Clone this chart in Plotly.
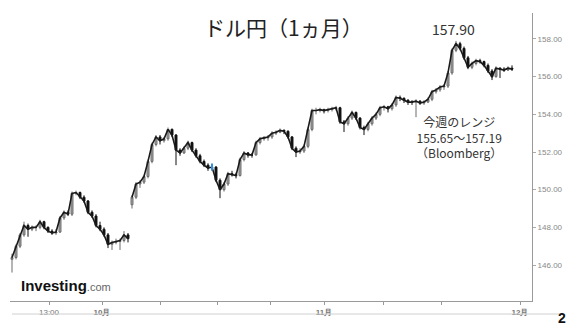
import plotly.graph_objects as go

# USD/JPY candles (1 month), one value per candle
opens = [146.3, 146.4, 147.0, 147.6, 148.1, 147.9, 148.0, 148.0, 148.3, 148.0,
         147.8, 147.7, 147.75, 148.5, 148.8, 148.7, 149.8, 149.85, 149.6, 149.4,
         148.8, 148.6, 148.1, 147.9, 147.6, 147.1, 147.2, 147.25, 147.3, 147.6,
         149.2, 149.6, 150.3, 150.4, 150.7, 151.5, 152.4, 152.8, 152.6, 152.7,
         153.2, 152.9, 152.1, 151.95, 152.2, 152.5, 152.1, 151.8, 151.5, 151.3,
         151.15, 151.2, 150.5, 150.0, 150.3, 150.85, 150.8, 150.75, 151.6, 151.95,
         151.85, 151.85, 152.5, 152.7, 152.75, 152.8, 153.0, 153.05, 153.15, 153.1,
         152.8, 152.2, 152.0, 152.05, 152.3, 153.2, 154.2, 154.2, 154.25, 154.2,
         154.25, 154.3, 154.35, 153.6, 153.5, 153.8, 154.1, 153.8, 153.3, 153.2,
         153.5, 153.8, 154.0, 154.35, 154.4, 154.3, 154.5, 154.9, 154.85, 154.75,
         154.65, 154.65, 154.7, 154.6, 154.65, 154.8, 155.2, 155.3, 155.45, 155.5,
         156.2, 157.4, 157.75, 157.5, 157.0, 156.5, 156.7, 156.85, 156.8, 156.6,
         156.3, 156.0, 156.45, 156.4, 156.35, 156.45]
highs = [146.6, 147.1, 147.7, 148.3, 148.2, 148.1, 148.1, 148.4, 148.35, 148.05,
         147.9, 147.9, 148.6, 148.9, 148.9, 149.9, 149.95, 149.9, 149.7, 149.45,
         148.9, 148.7, 148.3, 148.0, 147.7, 147.3, 147.4, 147.4, 147.8, 147.7,
         149.7, 150.4, 150.5, 150.8, 151.6, 152.5, 152.9, 152.9, 152.8, 153.3,
         153.25, 152.95, 152.2, 152.3, 152.6, 152.55, 152.2, 151.9, 151.6, 151.4,
         151.35, 151.25, 150.6, 150.4, 150.95, 151.0, 150.9, 151.7, 152.05, 152.0,
         151.95, 152.6, 152.8, 152.85, 152.9, 153.1, 153.15, 153.25, 153.2, 153.15,
         152.85, 152.3, 152.2, 152.4, 153.3, 154.3, 154.35, 154.35, 154.3, 154.35,
         154.4, 154.45, 154.4, 153.7, 153.9, 154.2, 154.15, 153.85, 153.4, 153.6,
         153.9, 154.1, 154.45, 154.5, 154.45, 154.6, 155.0, 155.0, 154.9, 154.8,
         154.75, 154.8, 154.75, 154.75, 154.9, 155.3, 155.4, 155.55, 155.6, 156.3,
         157.5, 157.9, 157.85, 157.6, 157.1, 156.8, 156.95, 156.95, 156.85, 156.7,
         156.4, 156.55, 156.5, 156.5, 156.55, 156.6]
lows = [145.6, 146.3, 146.9, 147.5, 147.5, 147.8, 147.8, 147.9, 147.9, 147.7,
        147.6, 147.6, 147.7, 148.4, 148.6, 148.6, 149.7, 149.5, 149.3, 148.7,
        148.5, 148.0, 147.8, 147.5, 146.9, 146.8, 147.1, 146.8, 147.2, 147.2,
        149.0, 149.5, 150.1, 150.3, 150.6, 151.4, 152.3, 152.4, 152.5, 152.6,
        152.8, 151.3, 151.8, 151.9, 152.1, 152.0, 151.7, 151.4, 151.2, 151.0,
        151.0, 150.4, 149.55, 149.9, 150.2, 150.7, 150.6, 150.7, 151.5, 151.7,
        151.7, 151.8, 152.4, 152.6, 152.6, 152.7, 152.9, 153.0, 152.95, 152.7,
        152.1, 151.73, 151.9, 151.95, 152.2, 153.1, 154.0, 154.1, 154.05, 154.1,
        154.15, 154.2, 153.5, 153.06, 153.4, 153.7, 153.7, 153.2, 152.9, 153.1,
        153.4, 153.7, 153.9, 154.2, 154.1, 154.2, 154.4, 154.7, 154.6, 154.5,
        154.5, 153.85, 154.5, 154.5, 154.6, 154.7, 155.1, 155.2, 155.3, 155.4,
        156.1, 157.3, 157.4, 156.9, 156.4, 156.4, 156.6, 156.7, 156.5, 156.2,
        155.82, 155.95, 155.93, 156.25, 156.3, 156.3]
closes = [146.4, 147.0, 147.6, 148.1, 147.9, 148.0, 148.0, 148.3, 148.0, 147.8,
          147.7, 147.75, 148.5, 148.8, 148.7, 149.8, 149.85, 149.6, 149.4, 148.8,
          148.6, 148.1, 147.9, 147.6, 147.1, 147.2, 147.25, 147.3, 147.6, 147.4,
          149.6, 150.3, 150.4, 150.7, 151.5, 152.4, 152.8, 152.6, 152.7, 153.2,
          152.9, 152.1, 151.95, 152.2, 152.5, 152.1, 151.8, 151.5, 151.3, 151.15,
          151.2, 150.5, 150.0, 150.3, 150.85, 150.8, 150.75, 151.6, 151.95, 151.85,
          151.85, 152.5, 152.7, 152.75, 152.8, 153.0, 153.05, 153.15, 153.1, 152.8,
          152.2, 152.0, 152.05, 152.3, 153.2, 154.2, 154.2, 154.25, 154.2, 154.25,
          154.3, 154.35, 153.6, 153.5, 153.8, 154.1, 153.8, 153.3, 153.2, 153.5,
          153.8, 154.0, 154.35, 154.4, 154.3, 154.5, 154.9, 154.85, 154.75, 154.65,
          154.65, 154.7, 154.6, 154.65, 154.8, 155.2, 155.3, 155.45, 155.5, 156.2,
          157.4, 157.75, 157.5, 157.0, 156.5, 156.7, 156.85, 156.8, 156.6, 156.3,
          156.0, 156.45, 156.4, 156.35, 156.45, 156.4]

gap_after = 29  # weekend gap: last candle before the price gap

x_tick_pos = [9.25, 22.5, 37, 51.25, 64.5, 78, 92.75, 107.25, 127]
x_tick_text = ["13:00", "<b>10月</b>", "", "", "", "<b>11月</b>", "", "", "<b>12月</b>"]
y_ticks = [146, 148, 150, 152, 154, 156, 158]

title_text = "ドル円（1ヵ月）"
high_label = "157.90"
range_lines = ["今週のレンジ", "155.65～157.19", "（Bloomberg）"]

xs = list(range(len(closes)))

fig = go.Figure()
# thin dark path through the closes so the dense candles read as one line
for seg in (slice(0, gap_after + 1), slice(gap_after + 1, None)):
    fig.add_trace(go.Scatter(x=xs[seg], y=closes[seg], mode="lines",
                             line=dict(color="#1a1a1a", width=1.6), hoverinfo="skip"))
fig.add_trace(go.Candlestick(
    x=xs, open=opens, high=highs, low=lows, close=closes,
    increasing=dict(line=dict(color="#6a6a6a", width=1), fillcolor="#a8a8a8"),
    decreasing=dict(line=dict(color="#111111", width=1), fillcolor="#111111"),
    whiskerwidth=0, hoverinfo="skip",
))
# small blue highlight candle
fig.add_trace(go.Scatter(x=[xs[50]], y=[closes[50]], mode="markers",
                         marker=dict(symbol="line-ns", size=5, color="#2f8fe0",
                                     line=dict(width=2, color="#2f8fe0")),
                         hoverinfo="skip"))

W, H = 575, 328
L, R, T, B = 10, 532, 13, 301
def px(xp):
    return (xp - L) / (R - L)
def py(yp):
    return (B - yp) / (B - T)

fig.update_layout(
    width=W, height=H,
    margin=dict(l=L, r=W - R, t=T, b=H - B),
    paper_bgcolor="white", plot_bgcolor="white",
    showlegend=False,
    font=dict(family="Noto Sans CJK JP, Noto Sans, sans-serif"),
    xaxis=dict(range=[-0.5, 130], tickmode="array", tickvals=x_tick_pos, ticktext=x_tick_text,
               ticks="outside", ticklen=3, tickcolor="#999", showline=True, linecolor="#9a9a9a",
               linewidth=1, showgrid=False, zeroline=False, rangeslider=dict(visible=False),
               tickfont=dict(size=8, color="#777", family="Liberation Sans, Arial"), fixedrange=True),
    yaxis=dict(side="right", range=[144.09, 159.38], tickmode="array", tickvals=y_ticks,
               tickformat=".2f", ticks="outside", ticklen=3, tickcolor="#aaa", showline=True,
               linecolor="#9a9a9a", linewidth=1, showgrid=False, zeroline=False,
               tickfont=dict(size=8, color="#888", family="Liberation Sans, Arial")),
)

ann = []
ann.append(dict(text=title_text, x=px(283), y=py(27), xref="paper", yref="paper",
                showarrow=False, xanchor="center", yanchor="middle",
                font=dict(size=21, color="#222", family="Noto Sans CJK JP")))
ann.append(dict(text=high_label, x=px(453), y=py(29), xref="paper", yref="paper",
                showarrow=False, xanchor="center", yanchor="middle",
                font=dict(size=14, color="#333", family="Noto Sans CJK JP")))
ann.append(dict(text="<br>".join(range_lines), x=px(459), y=py(137), xref="paper", yref="paper",
                showarrow=False, xanchor="center", yanchor="middle", align="center",
                font=dict(size=12, color="#333", family="Noto Sans CJK JP")))
ann.append(dict(text="<b>Investing</b><span style='font-size:11px;color:#666'>.com</span>",
                x=px(19), y=py(285), xref="paper", yref="paper", showarrow=False,
                xanchor="left", yanchor="middle",
                font=dict(size=15, color="#111", family="Liberation Sans, Arial")))
ann.append(dict(text="<b>2</b>", x=px(562), y=py(318), xref="paper", yref="paper",
                showarrow=False, xanchor="center", yanchor="middle",
                font=dict(size=14, color="#111", family="Liberation Sans, Arial")))
fig.update_layout(annotations=ann)

fig.add_shape(type="line", xref="paper", yref="paper", x0=px(12), x1=px(560),
              y0=py(314), y1=py(314), line=dict(color="#d0d0d0", width=1))

fig.write_html("out.html")
